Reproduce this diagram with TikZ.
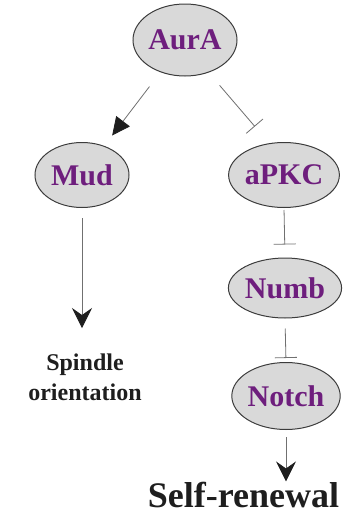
\documentclass[tikz,border=0pt]{standalone}
\usepackage{fontspec}
\setmainfont{Liberation Serif}
\usetikzlibrary{arrows.meta,shapes.geometric}
\definecolor{nodefill}{HTML}{D9D9D9}
\definecolor{nodeedge}{HTML}{3C3C3C}
\definecolor{genetext}{HTML}{6E1E7D}
\definecolor{linkgray}{HTML}{707070}
\definecolor{tipdark}{HTML}{1E1E1E}
\begin{document}
\begin{tikzpicture}[x=1pt,y=-1pt,
  gene/.style={ellipse, draw=nodeedge, line width=1pt, fill=nodefill,
    inner sep=0pt, text=genetext, font=\fontsize{30}{36}\selectfont\bfseries},
  link/.style={draw=linkgray, line width=0.8pt},
  activate/.style={link, -{Stealth[length=20pt,width=20pt,inset=7pt,color=tipdark]}},
  inhibit/.style={link, -{Bar[width=22pt,color=linkgray]}},
  outcome/.style={inner sep=0pt, text=tipdark}
]
\useasboundingbox (0,0) rectangle (345,517);

% signalling components
\node[gene, minimum width=104pt, minimum height=72pt] (aura)  at (185,40)  {AurA};
\node[gene, minimum width=94pt,  minimum height=65pt] (mud)   at (82,175)  {Mud};
\node[gene, minimum width=102pt, minimum height=65pt] (apkc)  at (284,175) {aPKC};
\node[gene, minimum width=91pt,  minimum height=60pt] (numb)  at (285,288) {Numb};
\node[gene, minimum width=96pt,  minimum height=67pt] (notch) at (286,396) {Notch};

% outcomes
\node[outcome, anchor=north, align=center,
  font=\fontsize{24}{30}\selectfont\bfseries] (spindle) at (85,354) {Spindle\\orientation};
\node[outcome, anchor=base,
  font=\fontsize{36}{40}\selectfont\bfseries] (selfren) at (243.5,507) {Self-renewal};

% connectors
\draw[link, -{Triangle[length=18pt,width=17pt,color=tipdark]},
  shorten <=18pt, shorten >=13pt] (aura) -- (mud);
\draw[inhibit, shorten <=16.8pt, shorten >=22pt] (aura.-54.4) -- (apkc.115);
\draw[activate, shorten <=10pt, shorten >=26pt] (mud.south) -- (mud.south |- spindle.north);
\draw[inhibit, shorten <=2pt, shorten >=13pt] (apkc.south) -- (numb.north);
\draw[inhibit, shorten <=10pt, shorten >=4pt] (numb.south) -- (notch.north);
\draw[activate, shorten <=7pt, shorten >=0pt] (notch.south) -- (notch.south |- selfren.north);
\end{tikzpicture}
\end{document}
